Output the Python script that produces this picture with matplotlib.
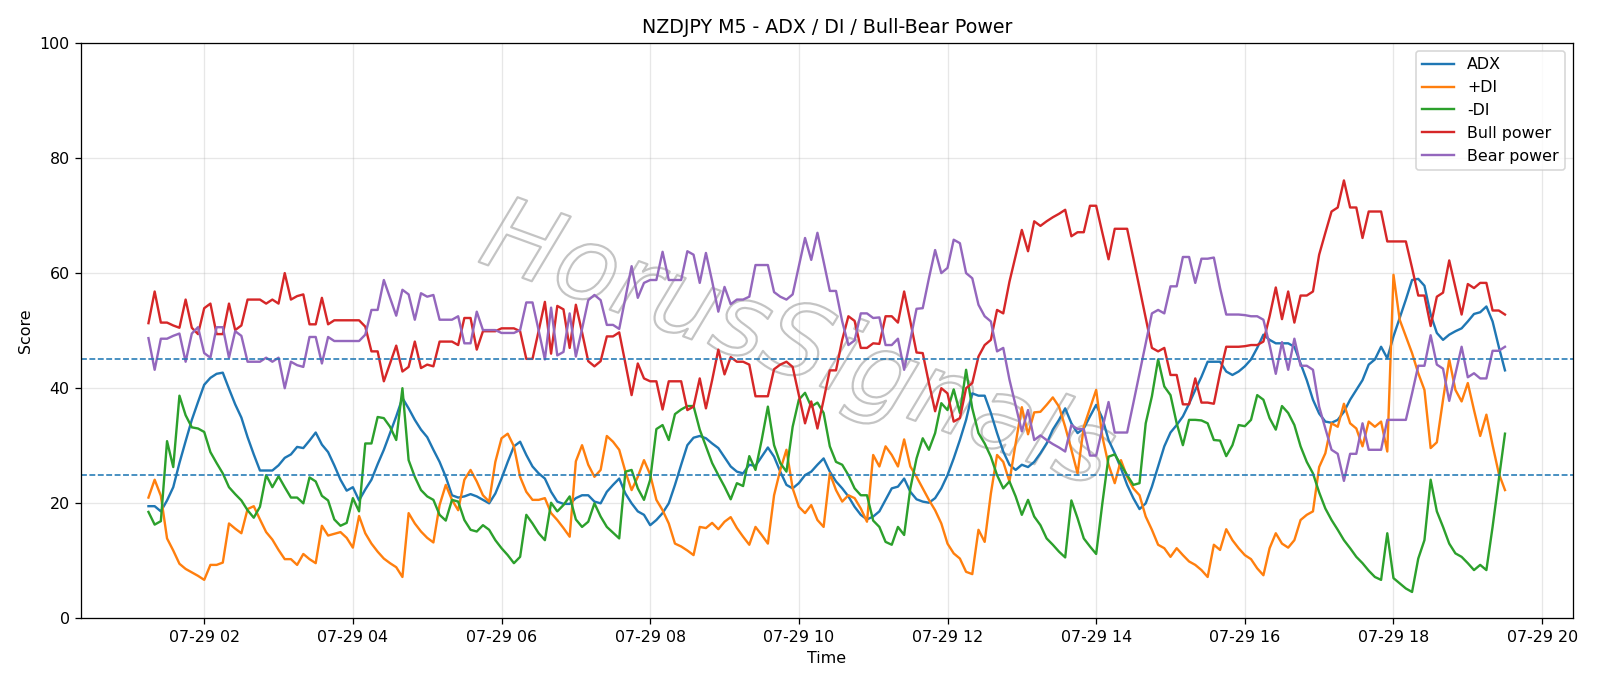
import numpy as np
import pandas as pd
import matplotlib
matplotlib.use("Agg")
import matplotlib.pyplot as plt
import matplotlib.patheffects as pe

# --- data: NZDJPY M5, 220 bars from 07-29 01:15 ---
START = "2025-07-29 01:15"
N_BARS = 220

adx = [
    19.5, 19.5, 18.6, 20.5, 22.8, 27, 30.8, 34.5, 37.6, 40.6,
    41.8, 42.5, 42.7, 39.9, 37.2, 34.9, 31.5, 28.5, 25.7, 25.7,
    25.7, 26.6, 27.9, 28.5, 29.8, 29.6, 30.9, 32.3, 30.2, 28.9,
    26.6, 24.1, 22.2, 22.8, 20.5, 22.4, 24.1, 26.8, 29.3, 32.2,
    35.1, 38.3, 36.5, 34.5, 32.8, 31.5, 29.3, 27.2, 24.6, 21.4,
    21, 21.2, 21.6, 21.2, 20.6, 20, 21.7, 24.3, 27.2, 29.9,
    30.7, 28.4, 26.4, 25.2, 24.3, 22, 20.3, 19.9, 19.9, 20.9,
    21.4, 21.4, 20.3, 20, 22, 23.2, 24.3, 21.7, 20, 18.6,
    18, 16.2, 17.1, 18.3, 20, 23.2, 26.7, 30.1, 31.4, 31.7,
    31.3, 30.4, 29.6, 28, 26.4, 25.5, 25.2, 26.7, 26.5, 28.1,
    29.7, 28.1, 25.5, 23.2, 22.6, 23.5, 24.9, 25.5, 26.7, 27.8,
    25.5, 23.8, 22.6, 21.2, 19.4, 18, 17.2, 17.7, 18.6, 20.6,
    22.6, 22.9, 24.3, 22, 20.7, 20.3, 20.1, 20.9, 22.6, 24.9,
    27.8, 31, 34.5, 39.1, 38.7, 38.7, 35.7, 32.2, 29, 26.7,
    25.8, 26.7, 26.3, 27.2, 28.7, 30.4, 32.8, 34.5, 36.5, 33.9,
    32.2, 33, 35.1, 37.1, 34.8, 31, 28.7, 26.1, 23.2, 20.9,
    19, 20, 22.9, 26.4, 29.9, 32.3, 33.6, 35.1, 37.3, 39.7,
    42, 44.6, 44.6, 44.6, 42.9, 42.3, 42.9, 43.8, 45, 47,
    49.3, 48.4, 47.8, 47.8, 47.8, 47.2, 44.3, 41.4, 38, 35.6,
    34.2, 34, 34.5, 35.9, 38, 39.7, 41.4, 44.1, 45, 47.2,
    45.2, 49, 52.2, 55.4, 58.8, 59, 57.8, 52.8, 49.6, 48.4,
    49.3, 49.9, 50.4, 51.6, 52.9, 53.2, 54.2, 51.6, 47.2, 43.1,
]

plus_di = [
    21, 24.1, 21.3, 13.9, 11.8, 9.5, 8.6, 8, 7.4, 6.7,
    9.3, 9.3, 9.7, 16.5, 15.6, 14.8, 19, 19.5, 17.2, 15,
    13.7, 11.9, 10.3, 10.3, 9.3, 11.2, 10.3, 9.6, 16.1, 14.4,
    14.7, 15, 14, 12.3, 17.8, 14.8, 13, 11.6, 10.4, 9.6,
    8.9, 7.2, 18.3, 16.5, 15.1, 14, 13.2, 19.7, 23.2, 20.6,
    18.8, 24.1, 25.8, 23.8, 21.4, 20.3, 27.2, 31.3, 32.1, 29.9,
    24.6, 22, 20.6, 20.6, 20.9, 18.3, 17.1, 15.7, 14.2, 27.3,
    30.1, 26.7, 24.6, 25.8, 31.7, 30.7, 29.3, 25.5, 22.3, 24.6,
    27.5, 25, 20.6, 18.8, 16.5, 13, 12.5, 11.8, 11, 15.9,
    15.7, 16.6, 15.5, 16.8, 17.6, 15.7, 14.2, 12.8, 15.9, 14.5,
    13, 21.4, 25.8, 29.3, 22.6, 19.4, 18.3, 19.7, 17.1, 15.9,
    25.2, 22.3, 20.3, 21.4, 20.9, 19.1, 16.8, 28.4, 26.4, 29.9,
    28.4, 26.4, 31.1, 26.4, 24.6, 22.6, 20.6, 18.8, 16.5, 13,
    11.3, 10.4, 8.1, 7.7, 15.4, 13.3, 21.7, 28.4, 27.2, 23.8,
    30.4, 36.7, 32, 35.8, 35.9, 37.1, 38.4, 36.8, 33.3, 29.3,
    25.2, 33.3, 36.5, 39.7, 31.6, 26.7, 23.5, 27.5, 24.6, 22.6,
    21.4, 17.7, 15.4, 12.8, 12.2, 10.7, 12.2, 11, 9.9, 9.3,
    8.4, 7.2, 12.8, 11.9, 15.5, 13.6, 12.2, 11, 10.3, 8.7,
    7.5, 12.2, 14.8, 13, 12.3, 13.6, 17.1, 18, 18.6, 26.3,
    28.7, 33.9, 33.3, 37.3, 33.9, 33, 29.9, 34.2, 33.3, 34.2,
    29, 59.7, 51.9, 49, 46.1, 42.6, 39.7, 29.6, 30.6, 38,
    45, 39.7, 37.7, 40.9, 36.2, 31.7, 35.4, 30.1, 25.2, 22.3,
]

minus_di = [
    18.5, 16.3, 16.9, 30.8, 26.3, 38.7, 35.3, 33.2, 33, 32.4,
    28.9, 27, 25.2, 22.8, 21.6, 20.5, 18.8, 17.5, 19.4, 24.9,
    22.8, 24.7, 22.8, 21, 21, 20, 24.5, 23.8, 21.3, 20.5,
    17.2, 16.1, 16.6, 20.9, 18.6, 30.4, 30.4, 35, 34.8, 33.3,
    31, 40, 27.5, 24.6, 22.3, 21.2, 20.6, 18, 17, 20.6,
    20.3, 17.1, 15.4, 15.1, 16.2, 15.4, 13.6, 12.2, 11, 9.6,
    10.7, 18, 16.5, 14.8, 13.6, 20.1, 18.6, 19.7, 21.2, 17.2,
    15.9, 16.8, 20, 17.7, 15.9, 14.9, 13.9, 25.5, 25.8, 22.6,
    20.6, 24.1, 32.9, 33.6, 31, 35.5, 36.3, 36.9, 36.9, 32.8,
    29.9, 27, 24.9, 22.9, 20.7, 23.5, 23, 28.2, 25.8, 31,
    36.8, 30.1, 27, 25.5, 33.3, 38, 39.2, 36.8, 37.5, 35.7,
    29.9, 27.2, 26.7, 24.9, 22.6, 21.4, 21.4, 17, 15.9, 13.3,
    12.8, 15.9, 14.5, 22.6, 27.8, 31.3, 29.3, 32.2, 37.4, 36.2,
    39.8, 35.7, 43.2, 36.5, 32.2, 30.4, 28.1, 24.9, 22.6, 23.8,
    21.2, 18, 20.6, 17.7, 16.2, 13.9, 12.8, 11.6, 10.6, 20.5,
    17.4, 13.9, 12.5, 11.2, 20, 28.1, 28.5, 26.7, 24.9, 23.2,
    23.5, 33.9, 38.6, 45, 40.3, 38.8, 33.9, 30.1, 34.5, 34.5,
    34.4, 33.9, 31, 30.9, 28.2, 30.1, 33.6, 33.4, 34.5, 38.8,
    38, 34.8, 32.8, 36.9, 35.7, 33.6, 29.9, 27.2, 25.2, 21.9,
    19.1, 17.1, 15.4, 13.6, 12.2, 10.7, 9.6, 8.3, 7.2, 6.7,
    14.8, 7, 6.1, 5.2, 4.6, 10.4, 13.6, 24.1, 18.6, 15.9,
    13, 11.3, 10.7, 9.6, 8.4, 9.3, 8.4, 15.9, 24.1, 32.1,
]

bull_power = [
    51.3, 56.8, 51.4, 51.4, 50.9, 50.5, 55.4, 50.5, 49.4, 53.9,
    54.7, 49.4, 49.4, 54.7, 50.1, 50.9, 55.4, 55.4, 55.4, 54.7,
    55.4, 54.7, 60, 55.4, 56, 56.3, 51.1, 51.1, 55.7, 51.1,
    51.8, 51.8, 51.8, 51.8, 51.8, 50.7, 46.4, 46.4, 41.2, 44.3,
    47.4, 42.9, 43.7, 48.1, 43.5, 44.1, 43.8, 48.1, 48.1, 48.1,
    47.5, 52.2, 52.2, 46.7, 49.9, 49.9, 49.9, 50.4, 50.4, 50.4,
    49.9, 45.1, 45.1, 50, 55, 46, 54.3, 53.7, 47, 54.5,
    49.7, 44.7, 43.8, 44.7, 49, 49, 49.7, 44.3, 38.8, 44.3,
    41.7, 41.2, 41.2, 36.3, 41.2, 41.2, 41.2, 36.2, 36.8, 41.7,
    36.5, 41.4, 46.7, 42.4, 45.4, 44.6, 44.6, 44.1, 38.6, 38.6,
    38.6, 43.3, 44.1, 44.6, 43.7, 38.8, 33.9, 37.7, 33, 38,
    43.1, 43.1, 48.4, 52.5, 51.7, 47, 47, 47.8, 47.7, 52.5,
    52.5, 51.4, 56.8, 51.6, 46.2, 46.1, 40.9, 36, 40, 39.1,
    34.2, 34.8, 40, 40.9, 45.5, 47.5, 48.4, 53.6, 53, 58.5,
    63, 67.5, 63.8, 69, 68.2, 69, 69.7, 70.3, 71, 66.4,
    67.1, 67.1, 71.7, 71.7, 67, 62.4, 67.7, 67.7, 67.7, 62.6,
    57.4, 52.2, 47, 46.4, 47, 42.3, 42.3, 37.2, 37.2, 41.7,
    37.5, 37.5, 37.3, 42.6, 47.2, 47.2, 47.2, 47.3, 47.5, 47.5,
    48.1, 52.5, 57.5, 52, 56.8, 51.4, 56.1, 56.1, 56.8, 63.2,
    67, 70.7, 71.4, 76.1, 71.4, 71.4, 66.1, 70.7, 70.7, 70.7,
    65.5, 65.5, 65.5, 65.5, 60.9, 56.1, 56.1, 50.8, 55.9, 56.6,
    62.2, 57.5, 52.8, 58.1, 57.4, 58.3, 58.3, 53.5, 53.5, 52.8,
]

bear_power = [
    48.7, 43.2, 48.6, 48.6, 49.1, 49.5, 44.6, 49.5, 50.6, 46.1,
    45.3, 50.6, 50.6, 45.3, 49.9, 49.1, 44.6, 44.6, 44.6, 45.3,
    44.6, 45.3, 40, 44.6, 44, 43.7, 48.9, 48.9, 44.3, 48.9,
    48.2, 48.2, 48.2, 48.2, 48.2, 49.3, 53.6, 53.6, 58.8, 55.7,
    52.6, 57.1, 56.3, 51.9, 56.5, 55.9, 56.2, 51.9, 51.9, 51.9,
    52.5, 47.8, 47.8, 53.3, 50.1, 50.1, 50.1, 49.6, 49.6, 49.6,
    50.1, 54.9, 54.9, 50, 45, 54, 45.7, 46.3, 53, 45.5,
    50.3, 55.3, 56.2, 55.3, 51, 51, 50.3, 55.7, 61.2, 55.7,
    58.3, 58.8, 58.8, 63.7, 58.8, 58.8, 58.8, 63.8, 63.2, 58.3,
    63.5, 58.6, 53.3, 57.6, 54.6, 55.4, 55.4, 55.9, 61.4, 61.4,
    61.4, 56.7, 55.9, 55.4, 56.3, 61.2, 66.1, 62.3, 67, 62,
    56.9, 56.9, 51.6, 47.5, 48.3, 53, 53, 52.2, 52.3, 47.5,
    47.5, 48.6, 43.2, 48.4, 53.8, 53.9, 59.1, 64, 60, 60.9,
    65.8, 65.2, 60, 59.1, 54.5, 52.5, 51.6, 46.4, 47, 41.5,
    37, 32.5, 36.2, 31, 31.8, 31, 30.3, 29.7, 29, 33.6,
    32.9, 32.9, 28.3, 28.3, 33, 37.6, 32.3, 32.3, 32.3, 37.4,
    42.6, 47.8, 53, 53.6, 53, 57.7, 57.7, 62.8, 62.8, 58.3,
    62.5, 62.5, 62.7, 57.4, 52.8, 52.8, 52.8, 52.7, 52.5, 52.5,
    51.9, 47.5, 42.5, 48, 43.2, 48.6, 43.9, 43.9, 43.2, 36.8,
    33, 29.3, 28.6, 23.9, 28.6, 28.6, 33.9, 29.3, 29.3, 29.3,
    34.5, 34.5, 34.5, 34.5, 39.1, 43.9, 43.9, 49.2, 44.1, 43.4,
    37.8, 42.5, 47.2, 41.9, 42.6, 41.7, 41.7, 46.5, 46.5, 47.2,
]

LEVELS = [25, 45]  # ADX の閾値ライン

times = pd.date_range(START, periods=N_BARS, freq="5min")

# --- グラフ ---
DPI = 1600 / 14
fig = plt.figure(figsize=(14, 686 / DPI), dpi=DPI)
ax = fig.add_axes([0.0504, 0.0985, 0.9326, 0.839])

ax.plot(times, adx, label="ADX", color="#1f77b4", lw=1.5)
ax.plot(times, plus_di, label="+DI", color="#ff7f0e", lw=1.5)
ax.plot(times, minus_di, label="-DI", color="#2ca02c", lw=1.5)
ax.plot(times, bull_power, label="Bull power", color="#d62728", lw=1.5)
ax.plot(times, bear_power, label="Bear power", color="#9467bd", lw=1.5)

for lv in LEVELS:
    ax.axhline(lv, color="#1f77b4", linestyle="--", lw=1.0)

ax.set_ylim(0, 100)
ax.set_title("NZDJPY M5 - ADX / DI / Bull-Bear Power", fontsize=12)
ax.set_xlabel("Time")
ax.set_ylabel("Score")
ax.grid(True, alpha=0.3)
ax.legend(loc="upper right")

# 透かし文字
ax.text(0.48, 0.47, "HorusSignals", transform=ax.transAxes, rotation=-20,
        ha="center", va="center", fontsize=64, style="italic", color="none",
        zorder=0.5,
        path_effects=[pe.withStroke(linewidth=1.4, foreground="#c4c4c4")])

fig.savefig("out.png", dpi=DPI)
